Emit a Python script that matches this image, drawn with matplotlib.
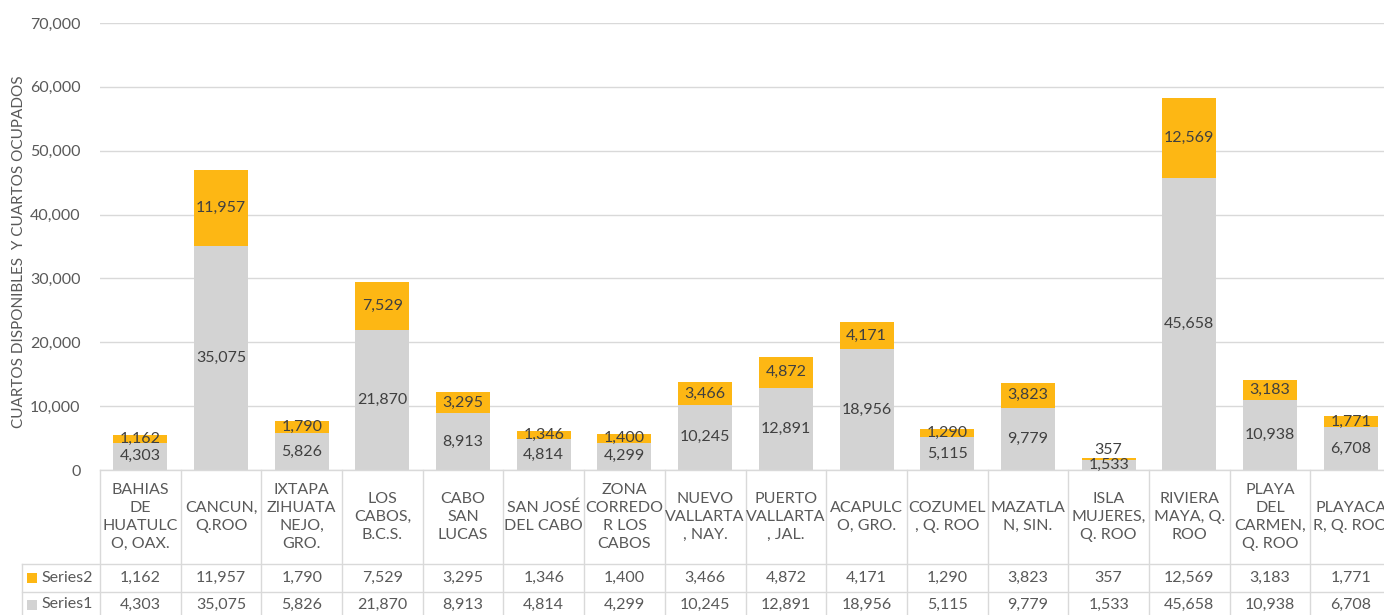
import matplotlib
matplotlib.use("Agg")
import matplotlib.pyplot as plt
import matplotlib.transforms as mtransforms
from matplotlib.ticker import FuncFormatter

plt.rcParams['font.family'] = ['Lato', 'DejaVu Sans']

categories = [
    "BAHIAS\nDE\nHUATULC\nO, OAX.",
    "CANCUN,\nQ.ROO",
    "IXTAPA\nZIHUATA\nNEJO,\nGRO.",
    "LOS\nCABOS,\nB.C.S.",
    "CABO\nSAN\nLUCAS",
    "SAN JOSÉ\nDEL CABO",
    "ZONA\nCORREDO\nR LOS\nCABOS",
    "NUEVO\nVALLARTA\n, NAY.",
    "PUERTO\nVALLARTA\n, JAL.",
    "ACAPULC\nO, GRO.",
    "COZUMEL\n, Q. ROO",
    "MAZATLA\nN, SIN.",
    "ISLA\nMUJERES,\nQ. ROO",
    "RIVIERA\nMAYA, Q.\nROO",
    "PLAYA\nDEL\nCARMEN,\nQ. ROO",
    "PLAYACA\nR, Q. ROO",
]
series1 = [4303, 35075, 5826, 21870, 8913, 4814, 4299, 10245, 12891, 18956,
           5115, 9779, 1533, 45658, 10938, 6708]
series2 = [1162, 11957, 1790, 7529, 3295, 1346, 1400, 3466, 4872, 4171,
           1290, 3823, 357, 12569, 3183, 1771]
series_names = ["Series1", "Series2"]
y_ticks = [0, 10000, 20000, 30000, 40000, 50000, 60000, 70000]
y_label = "CUARTOS DISPONIBLES  Y CUARTOS OCUPADOS"

c1 = "#D3D3D3"
c2 = "#FDB714"
tc = "#595959"
lc = "#D9D9D9"

W, H = 1384, 615
fig = plt.figure(figsize=(W / 100, H / 100), dpi=100)
left_px, right_px, top_px, bot_px = 100, 1391, 23, 470
ax = fig.add_axes([left_px / W, 1 - bot_px / H, (right_px - left_px) / W, (bot_px - top_px) / H])

n = len(categories)
x = list(range(n))
bw = 0.67
ax.bar(x, series1, width=bw, color=c1, zorder=2)
ax.bar(x, series2, width=bw, bottom=series1, color=c2, zorder=2)

for i in range(n):
    ax.text(i, series1[i] / 2, f"{series1[i]:,}", ha="center", va="center",
            fontsize=11.5, color="#404040", zorder=3)
    if series2[i] < 700:
        ax.text(i, series1[i] + series2[i] + 100, f"{series2[i]:,}", ha="center", va="bottom",
                fontsize=11.5, color="#404040", zorder=3)
    else:
        ax.text(i, series1[i] + series2[i] / 2, f"{series2[i]:,}", ha="center", va="center",
                fontsize=11.5, color="#404040", zorder=3)

ax.set_xlim(-0.5, n - 0.5)
ax.set_ylim(0, 70000)
ax.set_yticks(y_ticks)
ax.yaxis.set_major_formatter(FuncFormatter(lambda v, p: f"{int(v):,}"))
ax.tick_params(axis="y", length=0, labelsize=11.5, labelcolor=tc, pad=14)
ax.set_xticks([])
ax.grid(axis="y", color=lc, linewidth=1, zorder=0)
for s in ax.spines.values():
    s.set_visible(False)
ax.set_ylabel(y_label, fontsize=11, color=tc)
ax.yaxis.set_label_coords(-74 / (right_px - left_px), (bot_px - 252) / (bot_px - top_px))

# data table
bt = mtransforms.blended_transform_factory(ax.transData, fig.transFigure)
ft = fig.transFigure
def fy(py):
    return 1 - py / H

row1, row2 = 564, 592
line_kw = dict(color=lc, linewidth=1, clip_on=False)

ax.plot([-0.5, n - 0.5], [fy(bot_px)] * 2, transform=bt, **line_kw)
fig.add_artist(plt.Line2D([22 / W, 1], [fy(row1)] * 2, transform=ft, color=lc, linewidth=1))
fig.add_artist(plt.Line2D([22 / W, 1], [fy(row2)] * 2, transform=ft, color=lc, linewidth=1))
fig.add_artist(plt.Line2D([22 / W, 22 / W], [fy(row1), 0], transform=ft, color=lc, linewidth=1))
for i in range(n + 1):
    ax.plot([i - 0.5] * 2, [fy(bot_px), 0], transform=bt, **line_kw)

for i in range(n):
    ax.text(i, fy((bot_px + row1) / 2), categories[i], transform=bt, ha="center", va="center",
            fontsize=11.5, color=tc, linespacing=1.38, clip_on=False)
    ax.text(i, fy((row1 + row2) / 2), f"{series2[i]:,}", transform=bt, ha="center", va="center",
            fontsize=11.5, color=tc, clip_on=False)
    ax.text(i, fy((row2 + H) / 2 + 1), f"{series1[i]:,}", transform=bt, ha="center", va="center",
            fontsize=11.5, color=tc, clip_on=False)

for name, col, yy in [(series_names[1], c2, (row1 + row2) / 2), (series_names[0], c1, (row2 + H) / 2 + 1)]:
    fig.patches.append(plt.Rectangle((27 / W, fy(yy + 5)), 10 / W, 10 / H, transform=ft,
                                     facecolor=col, edgecolor="none"))
    fig.text(41 / W, fy(yy), name, ha="left", va="center", fontsize=11.5, color=tc)

fig.savefig("out.png", dpi=100)
